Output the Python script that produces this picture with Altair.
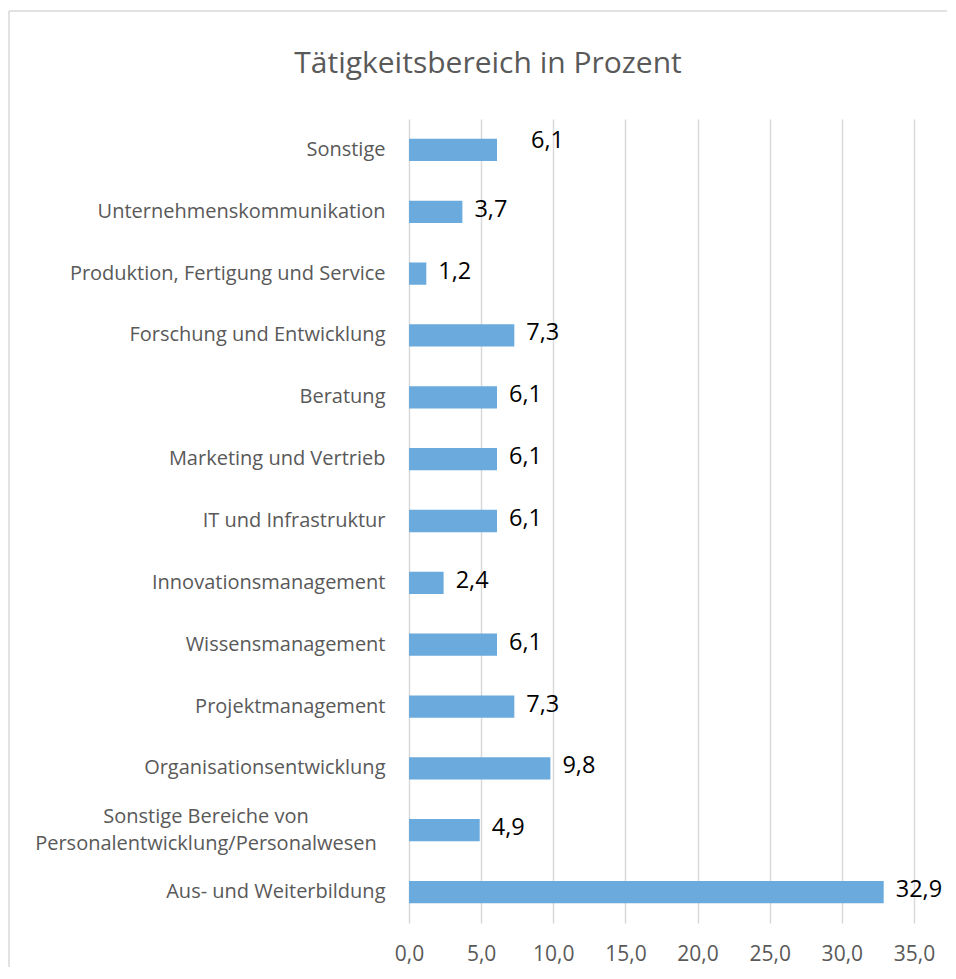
import altair as alt
import pandas as pd

title_text = "Tätigkeitsbereich in Prozent"
categories = [
    "Sonstige",
    "Unternehmenskommunikation",
    "Produktion, Fertigung und Service",
    "Forschung und Entwicklung",
    "Beratung",
    "Marketing und Vertrieb",
    "IT und Infrastruktur",
    "Innovationsmanagement",
    "Wissensmanagement",
    "Projektmanagement",
    "Organisationsentwicklung",
    "Sonstige Bereiche von\nPersonalentwicklung/Personalwesen",
    "Aus- und Weiterbildung",
]
values = [6.1, 3.7, 1.2, 7.3, 6.1, 6.1, 6.1, 2.4, 6.1, 7.3, 9.8, 4.9, 32.9]
x_ticks = [0, 5, 10, 15, 20, 25, 30, 35]

df = pd.DataFrame({"Bereich": categories, "Prozent": values})
df["Label"] = df["Prozent"].map(lambda v: f"{v:.1f}".replace(".", ","))

FONT = "Open Sans"
GREY = "#595959"
FRAME = "#d9d9d9"

y_enc = alt.Y(
    "Bereich:N",
    sort=categories,
    scale=alt.Scale(paddingInner=0.64, paddingOuter=0.32),
    axis=alt.Axis(
        title=None,
        domain=False,
        ticks=False,
        labelPadding=24,
        labelFont=FONT,
        labelFontSize=20,
        labelColor=GREY,
        labelLimit=500,
        minExtent=401,
        maxExtent=401,
        labelExpr="indexof(datum.value, '\\n') >= 0 ? '' : datum.value",
    ),
)

x_enc = alt.X(
    "Prozent:Q",
    scale=alt.Scale(domain=[0, 35], nice=False),
    axis=alt.Axis(
        title=None,
        values=x_ticks,
        domain=False,
        ticks=False,
        labelFlush=False,
        labelPadding=20,
        labelFont=FONT,
        labelFontSize=21,
        labelColor=GREY,
        grid=True,
        gridColor=FRAME,
        gridWidth=1.5,
        labelExpr="replace(format(datum.value, '.1f'), '.', ',')",
    ),
)

base = alt.Chart(df)

bars = base.mark_bar(color="#6aaadc").encode(x=x_enc, y=y_enc)

normal = base.transform_filter(alt.datum.Bereich != "Sonstige").mark_text(
    align="left", baseline="middle", dx=12, dy=-2, font=FONT, fontSize=23.5, color="#000000"
).encode(x="Prozent:Q", y=alt.Y("Bereich:N", sort=categories), text="Label:N")

special = base.transform_filter(alt.datum.Bereich == "Sonstige").mark_text(
    align="left", baseline="middle", dx=34, dy=-9, font=FONT, fontSize=23.5, color="#000000"
).encode(x="Prozent:Q", y=alt.Y("Bereich:N", sort=categories), text="Label:N")

multi = base.transform_filter(
    "indexof(datum.Bereich, '\\n') >= 0"
).mark_text(
    align="center", baseline="middle", lineBreak="\n", lineHeight=27, dy=-13,
    font=FONT, fontSize=20, color=GREY,
).encode(x=alt.value(-203), y=alt.Y("Bereich:N", sort=categories), text="Bereich:N")

single_df = pd.DataFrame({"Titel": [title_text]})
frame_left = alt.Chart(single_df).mark_rule(color=FRAME, strokeWidth=1.5).encode(
    x=alt.value(-400), y=alt.value(-108), y2=alt.value(848)
)
frame_top = alt.Chart(single_df).mark_rule(color=FRAME, strokeWidth=1.5).encode(
    x=alt.value(-400), x2=alt.value(538), y=alt.value(-108)
)
title = alt.Chart(single_df).mark_text(
    align="center", baseline="alphabetic", font=FONT, fontSize=30, color=GREY
).encode(x=alt.value(79), y=alt.value(-46), text="Titel:N")

chart = (
    alt.layer(frame_left, frame_top, bars, normal, special, multi, title)
    .properties(
        width=505,
        height=804,
        padding={"left": 0, "top": 2, "right": 0, "bottom": 0},
    )
    .configure_view(stroke=None)
)

chart.save("out.html", embed_options={"renderer": "svg", "actions": False})
